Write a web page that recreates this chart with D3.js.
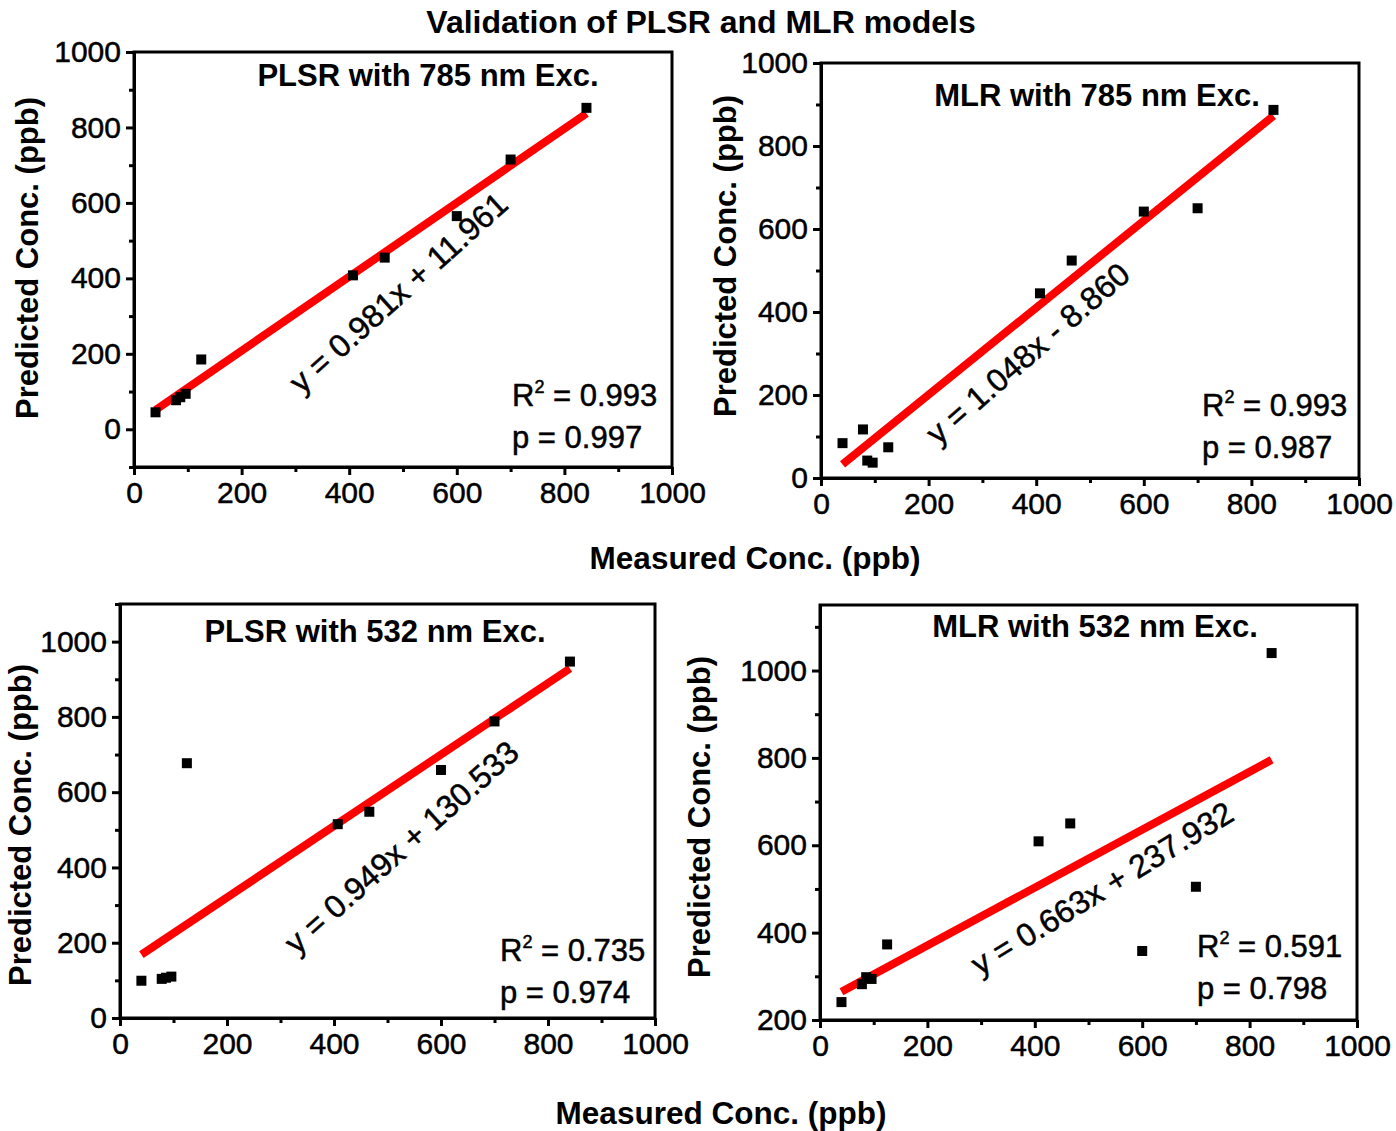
<!DOCTYPE html>
<html>
<head>
<meta charset="utf-8">
<script src="https://cdn.jsdelivr.net/npm/d3@7"></script>
<style>
  body { margin: 0; background: #fff; }
  text { font-family: Arial, "Liberation Sans", sans-serif; fill: #000; }
  .heavy { stroke: #000; stroke-width: 0.5px; }
</style>
</head>
<body>
<div id="chart"></div>
<script>
// measured concentrations (ppb), shared by all four models
const measured = [40, 78, 86, 96, 125, 407, 466, 600, 700, 841];

// predicted concentrations (ppb) per model
const plsr785 = [45, 77, 85, 94, 185, 408, 455, 565, 715, 852];
const mlr785  = [84, 117, 42, 37, 74, 445, 524, 642, 650, 887];
const plsr532 = [99, 104, 107, 110, 677, 515, 548, 659, 788, 947];
const mlr532  = [241, 282, 298, 294, 373, 609, 650, 358, 505, 1040];

const panelTitles = ["PLSR with 785 nm Exc.", "MLR with 785 nm Exc.", "PLSR with 532 nm Exc.", "MLR with 532 nm Exc."];
const slopes = [0.981, 1.048, 0.949, 0.663];
const intercepts = [11.961, -8.860, 130.533, 237.932];
const equations = ["y = 0.981x + 11.961", "y = 1.048x - 8.860", "y = 0.949x + 130.533", "y = 0.663x + 237.932"];
const r2Values = ["0.993", "0.993", "0.735", "0.591"];
const pValues = ["0.997", "0.987", "0.974", "0.798"];

const xTicks = [0, 200, 400, 600, 800, 1000];
const xMinor = [100, 300, 500, 700, 900];
const yTicks = [
  [0, 200, 400, 600, 800, 1000],
  [0, 200, 400, 600, 800, 1000],
  [0, 200, 400, 600, 800, 1000],
  [200, 400, 600, 800, 1000]
];
const yMinor = [
  [-100, 100, 300, 500, 700, 900],
  [100, 300, 500, 700, 900],
  [100, 300, 500, 700, 900, 1100],
  [300, 500, 700, 900, 1100]
];
const yDomains = [[-100, 1000], [0, 1000], [0, 1100], [200, 1150]];
const predicted = [plsr785, mlr785, plsr532, mlr532];

// page layout for each panel (pixels); equation anchors are in data units
const layout = [
  {left: 134, top: 52,  right: 672,  bottom: 467, titleX: 428,  titleY: 86,  yTitleX: 38,  yTitleY: 258, eqX: 505, eqY: 340, eqAngle: -42, statX: 512,  statY: 406},
  {left: 821, top: 63,  right: 1359, bottom: 478, titleX: 1097, titleY: 106, yTitleX: 736, yTitleY: 256, eqX: 398, eqY: 280, eqAngle: -41, statX: 1202, statY: 416},
  {left: 120, top: 604, right: 655,  bottom: 1018, titleX: 375, titleY: 642, yTitleX: 31, yTitleY: 825, eqX: 540, eqY: 432, eqAngle: -41.7, statX: 500, statY: 961},
  {left: 820, top: 605, right: 1357, bottom: 1020, titleX: 1095, titleY: 637, yTitleX: 710, yTitleY: 817, eqX: 536, eqY: 480, eqAngle: -31.5, statX: 1197, statY: 957}
];

const svg = d3.select("#chart").append("svg")
  .attr("width", 1396)
  .attr("height", 1131);

svg.append("text")
  .attr("x", 701).attr("y", 33)
  .attr("text-anchor", "middle")
  .style("font-size", "32px").style("font-weight", "bold")
  .text("Validation of PLSR and MLR models");

// shared x titles, one under each row
[[755, 569], [721, 1124]].forEach(([x, y]) => {
  svg.append("text")
    .attr("x", x).attr("y", y)
    .attr("text-anchor", "middle")
    .style("font-size", "31.5px").style("font-weight", "bold")
    .text("Measured Conc. (ppb)");
});

layout.forEach((p, i) => {
  const w = p.right - p.left, h = p.bottom - p.top;
  const g = svg.append("g").attr("transform", `translate(${p.left},${p.top})`);

  const xScale = d3.scaleLinear().domain([0, 1000]).range([0, w]);
  const yScale = d3.scaleLinear().domain(yDomains[i]).range([h, 0]);

  g.append("rect")
    .attr("width", w).attr("height", h)
    .attr("fill", "none").attr("stroke", "#000").attr("stroke-width", 3);

  const styleAxis = sel => {
    sel.select(".domain").attr("stroke-width", 3);
    sel.selectAll(".tick line").attr("stroke-width", 3);
    sel.selectAll(".tick text").attr("class", "heavy").style("font-size", "30px").attr("fill", "#000");
  };

  g.append("g").attr("transform", `translate(0,${h})`)
    .call(d3.axisBottom(xScale).tickValues(xMinor).tickSize(5).tickSizeOuter(0).tickFormat(""))
    .call(styleAxis);
  g.append("g").attr("transform", `translate(0,${h})`)
    .call(d3.axisBottom(xScale).tickValues(xTicks).tickSize(8).tickPadding(7).tickSizeOuter(0).tickFormat(d3.format("d")))
    .call(styleAxis);
  g.append("g")
    .call(d3.axisLeft(yScale).tickValues(yMinor[i]).tickSize(5).tickSizeOuter(0).tickFormat(""))
    .call(styleAxis);
  g.append("g")
    .call(d3.axisLeft(yScale).tickValues(yTicks[i]).tickSize(8).tickPadding(5).tickSizeOuter(0).tickFormat(d3.format("d")))
    .call(styleAxis);

  // fitted regression line across the measured range
  const xr = d3.extent(measured);
  const line = d3.line().x(d => xScale(d)).y(d => yScale(slopes[i] * d + intercepts[i]));
  g.append("path")
    .datum(xr)
    .attr("d", line)
    .attr("fill", "none").attr("stroke", "#ff0000")
    .attr("stroke-width", 8);

  const pts = measured.map((m, k) => ({x: m, y: predicted[i][k]}));
  g.selectAll(".pt").data(pts).enter().append("rect")
    .attr("class", "pt")
    .attr("x", d => xScale(d.x) - 5)
    .attr("y", d => yScale(d.y) - 5)
    .attr("width", 10).attr("height", 10)
    .attr("fill", "#000");

  g.append("text")
    .attr("class", "heavy")
    .attr("transform", `translate(${xScale(p.eqX)},${yScale(p.eqY)}) rotate(${p.eqAngle})`)
    .attr("text-anchor", "middle")
    .style("font-size", "32px")
    .text(equations[i]);

  svg.append("text")
    .attr("x", p.titleX).attr("y", p.titleY)
    .attr("text-anchor", "middle")
    .style("font-size", "31px").style("font-weight", "bold")
    .text(panelTitles[i]);

  svg.append("text")
    .attr("transform", `translate(${p.yTitleX},${p.yTitleY}) rotate(-90)`)
    .attr("text-anchor", "middle")
    .style("font-size", "31px").style("font-weight", "bold")
    .text("Predicted Conc. (ppb)");

  const r2 = svg.append("text")
    .attr("class", "heavy")
    .attr("x", p.statX).attr("y", p.statY)
    .style("font-size", "31px");
  r2.append("tspan").text("R");
  r2.append("tspan").attr("dy", -13).style("font-size", "18px").text("2");
  r2.append("tspan").attr("dy", 13).text(" = " + r2Values[i]);

  svg.append("text")
    .attr("class", "heavy")
    .attr("x", p.statX).attr("y", p.statY + 42)
    .style("font-size", "31px")
    .text("p = " + pValues[i]);
});
</script>
</body>
</html>
